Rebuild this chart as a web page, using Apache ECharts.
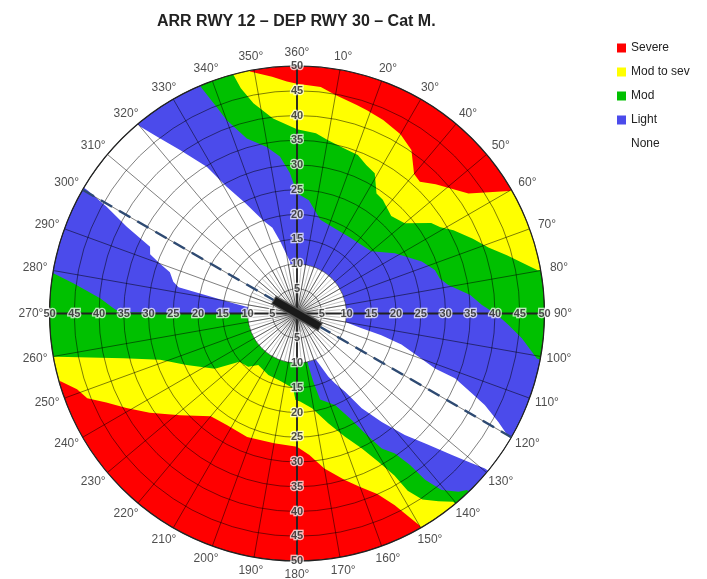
<!DOCTYPE html>
<html>
<head>
<meta charset="utf-8">
<title>ARR RWY 12 - DEP RWY 30</title>
<script src="https://cdn.jsdelivr.net/npm/echarts@6/dist/echarts.min.js"></script>
<style>
  html, body { margin: 0; padding: 0; background: #fff; }
  #main { width: 707px; height: 579px; }
</style>
</head>
<body>
<div id="main"></div>
<script>
var chartTitle = 'ARR RWY 12 – DEP RWY 30 – Cat M.';
var levels = ['Severe', 'Mod to sev', 'Mod', 'Light', 'None'];
var radiusTicks = [5, 10, 15, 20, 25, 30, 35, 40, 45, 50];
var tickLabelDirections = [0, 90, 180, 270];
var directionTicks = [0, 10, 20, 30, 40, 50, 60, 70, 80, 90, 100, 110, 120, 130, 140, 150, 160, 170,
  180, 190, 200, 210, 220, 230, 240, 250, 260, 270, 280, 290, 300, 310, 320, 330, 340, 350];
var runwayEnds = [300, 120];
var maxWind = 50;
var calmWind = 10;
var runwayHalfLength = 5.5;

// [wind direction (deg), wind speed (kt)] where each level starts
// 70 means the level does not start inside the rim at that direction
var severeFrom = [
  [0, 46.4], [6, 46], [10, 44.8], [16, 43.8], [19, 43.4], [24, 42.8], [30, 41.8], [35, 40.3],
  [40, 36.8], [43, 36.4], [47, 38.3], [55, 42.3], [60, 49.5],
  [62, 70], [100, 70], [140, 70], [148, 70],
  [150, 49.4], [153, 43.5], [156, 39.9], [160, 37.3], [164, 35], [170, 31.8], [175, 28.7],
  [180, 26.9], [190, 26.6], [202, 26.9], [212, 26.6], [220, 27.1], [229, 31.3], [236, 35.9],
  [241, 39.4], [245, 42.5], [248, 45.7], [251, 47], [254, 49.7],
  [256, 70], [300, 70], [346, 70],
  [349, 49.8], [354, 48.1], [357.5, 46.9]
];
var modSevFrom = [
  [0, 37.2], [6, 36.6], [10, 35.6], [16, 34.7], [21, 34.3], [25, 33.1], [29, 32.4], [33.5, 29.1],
  [37, 28.8], [44, 27.4], [50, 28.4], [56, 32.7], [59, 33.8], [62, 35.8], [67, 38.6], [71, 40.9],
  [74.5, 44], [79.8, 49.4],
  [82, 70], [110, 70], [138, 70],
  [140.3, 49.4], [143, 47.5], [146, 45.3], [148, 42.2], [149, 38.2], [151.3, 34.1], [154.4, 30.2],
  [158.7, 26.7], [164, 23.1], [171, 19.4], [178, 17.8], [181, 17.5], [183, 15.1], [193, 14.1],
  [205, 13.7], [217, 13], [222.5, 14.6], [230, 15.2], [236, 20], [245, 24.6], [251.3, 29.2],
  [255.5, 36.2], [258, 42.8], [259.8, 49.3],
  [262, 70], [300, 70], [343, 70],
  [345, 50.2], [346, 46.9], [348.3, 43.4], [353, 39.7]
];
var modFrom = [
  [0, 24.3], [6, 23], [14, 19.5], [24, 18.8], [34, 18.7], [43, 19], [50, 19.6], [58.4, 23.2],
  [67.4, 27.3], [72.5, 29.2], [76.2, 29.7], [79.3, 31.1], [83.9, 35.2], [87.4, 37.4], [90.4, 40.5],
  [93.1, 42.8], [96.3, 45.7], [100.6, 49.3],
  [103, 70], [120, 70], [134, 70],
  [136.1, 49.5], [137.8, 48.6], [140.7, 46.1], [142.4, 42.4], [143.3, 38.2], [145, 34.5],
  [147.9, 32.2], [150.4, 27.8], [152.8, 24.2], [157.4, 20], [165, 18], [166.6, 14], [168.2, 9.6],
  [220, 8], [269.8, 9.5],
  [270.4, 35.8], [271.6, 37.1], [274.4, 39.9], [277.7, 45.6], [279.4, 49.9],
  [281, 70], [310, 70], [335, 70],
  [337.1, 49.4], [338.5, 45.3], [340, 41.6], [344, 36.8], [349.7, 34.2], [353.8, 31.9], [357.1, 28.4]
];
var lightFrom = [
  [0, 5], [60, 5], [95, 5],
  [99.7, 9.8], [102.9, 13.4], [104.5, 17.6], [106.5, 22], [109.5, 26], [111.7, 30], [112.3, 34.5],
  [114.5, 38.8], [116, 42.2], [118.3, 46.2], [120.2, 49.4],
  [122, 70], [128, 70],
  [129.5, 49.2], [130.6, 46.5], [132.4, 42.4], [135, 37.5], [138.4, 32.8], [142, 27.8], [145.7, 23.2],
  [148.5, 18.5], [151.4, 16.1], [153.6, 14.2], [158.1, 9.8],
  [165, 5], [220, 5], [276, 5],
  [277.7, 10.3], [279.1, 13], [282.5, 24.5], [284.4, 25.8], [288, 27], [290, 29.5], [292, 32],
  [294.4, 32.6], [297, 38.6], [299.3, 44.1], [300.5, 49.2],
  [302, 70], [318, 70],
  [320, 49.3], [321.6, 45.6], [324.4, 40.6], [328.4, 34.8], [331, 29.3], [335, 24.5], [340, 20],
  [344, 18], [347, 14.9], [352.3, 10.6], [355, 5]
];

var levelColors = ['#ff0000', '#ffff00', '#00c000', '#4b4beb', '#ffffff'];
var levelEdges = [null, severeFrom, modSevFrom, modFrom, lightFrom];
var center = [297, 313.5];
var font = 'Liberation Sans, Arial, sans-serif';

var myChart = echarts.init(document.getElementById('main'));

function toPoints(edge, api) {
  return edge.map(function (p) {
    var c = api.coord([p[1], p[0]]);
    return [c[0], c[1]];
  });
}

// each level is painted as a star shaped area out to where the next level starts
function levelSeries(i) {
  var edge = levelEdges[i];
  return {
    name: levels[i],
    type: 'custom',
    coordinateSystem: 'polar',
    polarIndex: 0,
    clip: true,
    silent: true,
    z: 1,
    itemStyle: { color: levelColors[i] },
    data: [[0, 0]],
    renderItem: function (params, api) {
      var c0 = api.coord([0, 0]);
      var children = [];
      if (edge) {
        children.push({ type: 'polygon', shape: { points: toPoints(edge, api) }, style: { fill: levelColors[i] } });
      } else {
        var rim = api.coord([maxWind, 0]);
        children.push({ type: 'circle', shape: { cx: c0[0], cy: c0[1], r: Math.abs(c0[1] - rim[1]) }, style: { fill: levelColors[i] } });
      }
      if (i === levels.length - 1) {
        var calm = api.coord([calmWind, 0]);
        children.push({ type: 'circle', shape: { cx: c0[0], cy: c0[1], r: Math.abs(c0[1] - calm[1]) }, style: { fill: '#ffffff' } });
      }
      return { type: 'group', children: children };
    }
  };
}

var tickLabelData = [];
tickLabelDirections.forEach(function (a) {
  radiusTicks.forEach(function (r) { tickLabelData.push([r, a]); });
});

// direction labels sit just outside the rim, pushed out along an ellipse
var directionLabelData = directionTicks.map(function (a) {
  var t = a * Math.PI / 180;
  return {
    value: [maxWind, a],
    label: { offset: [18.5 * Math.sin(t), -13.5 * Math.cos(t)] }
  };
});

var series = levels.map(function (name, i) { return levelSeries(i); });
series.push({
  name: 'runway axis',
  type: 'line',
  coordinateSystem: 'polar',
  polarIndex: 0,
  data: runwayEnds.map(function (a) { return [maxWind, a]; }),
  symbol: 'none',
  silent: true,
  z: 12,
  lineStyle: { color: '#2e4a72', width: 2.5, type: [13, 8] }
});
series.push({
  name: 'runway edge',
  type: 'line',
  coordinateSystem: 'polar',
  polarIndex: 0,
  data: runwayEnds.map(function (a) { return [runwayHalfLength, a]; }),
  symbol: 'none',
  silent: true,
  z: 13,
  lineStyle: { color: '#555', width: 10, cap: 'butt' }
});
series.push({
  name: 'runway',
  type: 'line',
  coordinateSystem: 'polar',
  polarIndex: 0,
  data: runwayEnds.map(function (a) { return [runwayHalfLength - 0.2, a]; }),
  symbol: 'none',
  silent: true,
  z: 14,
  lineStyle: { color: '#1a1a1a', width: 7, cap: 'butt' }
});
series.push({
  name: 'speed labels',
  type: 'scatter',
  coordinateSystem: 'polar',
  polarIndex: 0,
  data: tickLabelData,
  symbolSize: 1,
  clip: false,
  silent: true,
  z: 15,
  itemStyle: { color: 'rgba(0,0,0,0)' },
  label: {
    show: true,
    position: 'inside',
    formatter: function (p) { return p.value[0]; },
    fontFamily: font,
    fontSize: 11,
    fontWeight: 'bold',
    color: '#222',
    textBorderColor: 'rgba(255,255,255,0.9)',
    textBorderWidth: 2.5
  }
});
series.push({
  name: 'direction labels',
  type: 'scatter',
  coordinateSystem: 'polar',
  polarIndex: 0,
  data: directionLabelData,
  symbolSize: 1,
  clip: false,
  silent: true,
  z: 15,
  itemStyle: { color: 'rgba(0,0,0,0)' },
  label: {
    show: true,
    position: 'inside',
    formatter: function (p) { return (p.value[1] === 0 ? 360 : p.value[1]) + '°'; },
    fontFamily: font,
    fontSize: 12,
    color: '#222'
  }
});

var option = {
  animation: false,
  title: {
    text: chartTitle,
    left: 152,
    top: 9,
    textStyle: { fontFamily: font, fontSize: 16, fontWeight: 'bold', color: '#222' }
  },
  legend: {
    orient: 'vertical',
    left: 617,
    top: 42,
    padding: 0,
    itemWidth: 9,
    itemHeight: 9,
    itemGap: 12,
    icon: 'rect',
    selectedMode: false,
    data: levels,
    textStyle: { fontFamily: font, fontSize: 12, color: '#222' }
  },
  polar: [
    { center: center, radius: 247.5 },
    { center: center, radius: [0, 49.5] },
    { center: center, radius: 247.5 }
  ],
  angleAxis: [
    {
      polarIndex: 0, type: 'value', min: 0, max: 360, interval: 10,
      startAngle: 90, clockwise: true, z: 10,
      axisLine: { lineStyle: { color: '#222', width: 1.2 } },
      axisTick: { show: false },
      axisLabel: { show: false },
      splitLine: { lineStyle: { color: 'rgba(0,0,0,0.5)', width: 1 } }
    },
    {
      polarIndex: 1, type: 'value', min: 0, max: 360, interval: 5,
      startAngle: 90, clockwise: true, z: 10,
      axisLine: { show: false }, axisTick: { show: false }, axisLabel: { show: false },
      splitLine: { lineStyle: { color: 'rgba(0,0,0,0.3)', width: 0.8 } }
    },
    {
      polarIndex: 2, type: 'value', min: 0, max: 360, interval: 90,
      startAngle: 90, clockwise: true, z: 11,
      axisLine: { show: false }, axisTick: { show: false }, axisLabel: { show: false },
      splitLine: { lineStyle: { color: '#222', width: 1.8 } }
    }
  ],
  radiusAxis: [
    {
      polarIndex: 0, type: 'value', min: 0, max: maxWind, interval: 5, z: 10,
      axisLine: { show: false }, axisTick: { show: false }, axisLabel: { show: false },
      splitLine: { lineStyle: { color: 'rgba(0,0,0,0.5)', width: 1 } }
    },
    { polarIndex: 1, type: 'value', min: 0, max: calmWind, show: false },
    { polarIndex: 2, type: 'value', min: 0, max: maxWind, show: false }
  ],
  series: series
};

myChart.setOption(option);
</script>
</body>
</html>
